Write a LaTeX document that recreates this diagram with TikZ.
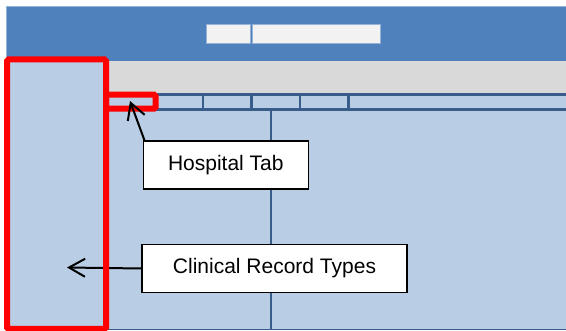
\documentclass[tikz,border=0pt]{standalone}
\usepackage{fontspec}
\setmainfont{Liberation Sans}
\usetikzlibrary{arrows.meta}
\definecolor{barblue}{HTML}{4F81BD}
\definecolor{paneblue}{HTML}{B9CDE5}
\definecolor{bandgrey}{HTML}{D9D9D9}
\definecolor{lineblue}{HTML}{385D8A}
\definecolor{edgeblue}{HTML}{95B3D7}
\definecolor{boxwhite}{HTML}{F2F2F2}
\tikzset {
  % window parts
  pane/.style = {
    fill = paneblue,
    draw = none
  },
  divider/.style = {
    draw = lineblue,
    line width = 2.6pt
  },
  title box/.style = {
    fill = boxwhite,
    draw = edgeblue,
    line width = 0.6pt
  },
  % red marks round the parts that are named
  highlight/.style = {
    draw = red,
    line width = 6pt,
    rounded corners = 1.5pt
  },
  % label with a pointer
  callout/.style = {
    draw = black,
    fill = white,
    line width = 1.6pt,
    inner sep = 0,
    minimum height = 48pt,
    font = \fontsize{21}{25}\selectfont
  },
  pointer/.style = {
    draw = black,
    line width = 2pt,
    -{Straight Barb[length=16pt,width=18pt]}
  }
}
\begin{document}
\begin{tikzpicture}[x=1pt,y=-1pt]
    \useasboundingbox (0,0) rectangle (566,331);

    % window
    \path[pane] (6,6) rectangle (566,330);
    \path[fill=barblue] (6,6) rectangle (566,61);
    \path[fill=bandgrey] (106,61) rectangle (566,94.7);
    \draw[edgeblue, line width=0.8pt] (566,6) -- (6,6) -- (6,330);
    \draw[lineblue, line width=1pt] (106,330) -- (566,330);

    \path[title box] (206.5,24.3) rectangle (249.8,43.3);
    \path[title box] (252.7,24.3) rectangle (379.8,43.3);

    % tab row and panes
    \draw[divider] (106,94.7) -- (566,94.7);
    \draw[divider] (106,109.3) -- (566,109.3);
    \foreach \x in {157,203,251.5,300,348.3}
      \draw[divider] (\x,94.7) -- (\x,109.3);
    \draw[divider] (271,109.3) -- (271,330);

    \coordinate (tab-tip) at (130,101);
    \coordinate (types-tip) at (67,267.5);

    \node[callout, minimum width=165pt] (hospital) at (225.8,165.2) {Hospital Tab};
    \node[callout, minimum width=265pt] (types) at (274.5,268.5) {Clinical Record Types};

    \draw[pointer] (types.west) -- (types-tip);

    \draw[highlight] (7,59.5) rectangle (106,329);
    \draw[highlight] (106,94.7) rectangle (155.5,108.7);

    \draw[pointer] ([xshift=2pt]hospital.north west) -- (tab-tip);
\end{tikzpicture}
\end{document}
